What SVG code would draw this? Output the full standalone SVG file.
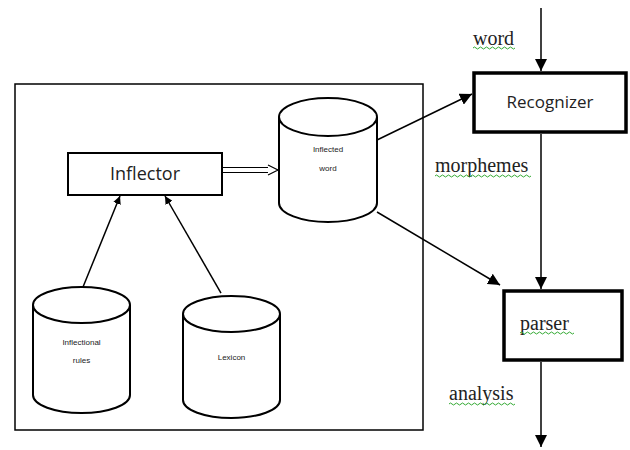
<svg xmlns="http://www.w3.org/2000/svg" width="630" height="450" viewBox="0 0 630 450">
<defs>
<marker id="ah" viewBox="0 0 10 10" refX="10" refY="5" markerWidth="8" markerHeight="8" markerUnits="userSpaceOnUse" orient="auto"><path d="M0,0 L10,5 L0,10 z" fill="#000"/></marker>
<marker id="ahb" viewBox="0 0 10 10" refX="10" refY="5" markerWidth="12" markerHeight="12" markerUnits="userSpaceOnUse" orient="auto"><path d="M0,0 L10,5 L0,10 z" fill="#000"/></marker>
<style>
.ln{stroke:#000;stroke-width:1.5;fill:none}
.cyl{stroke:#000;stroke-width:2;fill:#fff}
.sans{font-family:"Open Sans","Liberation Sans",sans-serif;fill:#222}
.small{font-family:"Liberation Sans",sans-serif;font-size:8px;fill:#222;text-anchor:middle}
.serif{font-family:"Liberation Serif",serif;font-size:20px;fill:#222}
.sq{stroke:#3a3;stroke-width:1;fill:none}
</style>
</defs>
<rect width="630" height="450" fill="#fff"/>
<rect id="frame" x="15" y="84" width="408" height="346" fill="none" stroke="#000" stroke-width="1.5"/>
<g id="inflector">
<rect x="68" y="153" width="154" height="42" fill="#fff" stroke="#000" stroke-width="2"/>
<text class="sans" x="145" y="180" font-size="18" text-anchor="middle">Inflector</text>
</g>
<g id="inflected-word">
<path class="cyl" d="M279,117 V203 A49,19 0 0 0 377,203 V117"/>
<ellipse class="cyl" cx="328" cy="117" rx="49" ry="19"/>
<text class="small" x="328" y="152">Inflected</text>
<text class="small" x="328" y="171">word</text>
</g>
<g id="inflectional-rules">
<path class="cyl" d="M33,305 V395 A48.5,18 0 0 0 130,395 V305"/>
<ellipse class="cyl" cx="81.5" cy="305" rx="48.5" ry="18"/>
<text class="small" x="81.5" y="345">Inflectional</text>
<text class="small" x="81.5" y="363">rules</text>
</g>
<g id="lexicon">
<path class="cyl" d="M183,314 V400 A48.5,18 0 0 0 280,400 V314"/>
<ellipse class="cyl" cx="231.5" cy="314" rx="48.5" ry="18"/>
<text class="small" x="231.5" y="360">Lexicon</text>
</g>
<g id="recognizer">
<rect x="474" y="73" width="152" height="59" fill="#fff" stroke="#000" stroke-width="3.5"/>
<text class="sans" x="550" y="108" font-size="17" text-anchor="middle">Recognizer</text>
</g>
<g id="parser">
<rect x="504" y="291" width="118" height="69" fill="#fff" stroke="#000" stroke-width="3.5"/>
<text class="serif" x="520" y="330">parser</text>
<path class="sq" d="M520,333 q1.5,-2 3,0 t3,0 t3,0 t3,0 t3,0 t3,0 t3,0 t3,0 t3,0 t3,0 t3,0 t3,0 t3,0 t3,0 t3,0 t3,0 t3,0 t3,0"/>
</g>
<g id="connectors">
<path class="ln" d="M541,8 V71" marker-end="url(#ahb)"/>
<path class="ln" d="M541,134 V289" marker-end="url(#ahb)"/>
<path class="ln" d="M541,362 V447" marker-end="url(#ahb)"/>
<path class="ln" d="M377,140 L472,94" marker-end="url(#ahb)"/>
<path class="ln" d="M377,212 L500,285" marker-end="url(#ahb)"/>
<path class="ln" d="M83,287 L120,196" marker-end="url(#ah)"/>
<path class="ln" d="M221,293 L165,196" marker-end="url(#ah)"/>
<path d="M222,167.5 H270 M222,172.5 H270" stroke="#000" stroke-width="1.2" fill="none"/>
<path d="M268,165 L278,170 L268,175" stroke="#000" stroke-width="1.2" fill="#fff"/>
</g>
<g id="labels">
<text class="serif" x="473" y="45">word</text>
<path class="sq" d="M473,48 q1.5,-2 3,0 t3,0 t3,0 t3,0 t3,0 t3,0 t3,0 t3,0 t3,0 t3,0 t3,0 t3,0 t3,0 t3,0"/>
<text class="serif" x="435" y="172">morphemes</text>
<path class="sq" d="M435,176 q1.5,-2 3,0 t3,0 t3,0 t3,0 t3,0 t3,0 t3,0 t3,0 t3,0 t3,0 t3,0 t3,0 t3,0 t3,0 t3,0 t3,0 t3,0 t3,0 t3,0 t3,0 t3,0 t3,0 t3,0 t3,0 t3,0 t3,0 t3,0 t3,0 t3,0 t3,0 t3,0 t3,0"/>
<text class="serif" x="449" y="400">analysis</text>
<path class="sq" d="M449,404 q1.5,-2 3,0 t3,0 t3,0 t3,0 t3,0 t3,0 t3,0 t3,0 t3,0 t3,0 t3,0 t3,0 t3,0 t3,0 t3,0 t3,0 t3,0 t3,0 t3,0 t3,0 t3,0 t3,0"/>
</g>
</svg>
